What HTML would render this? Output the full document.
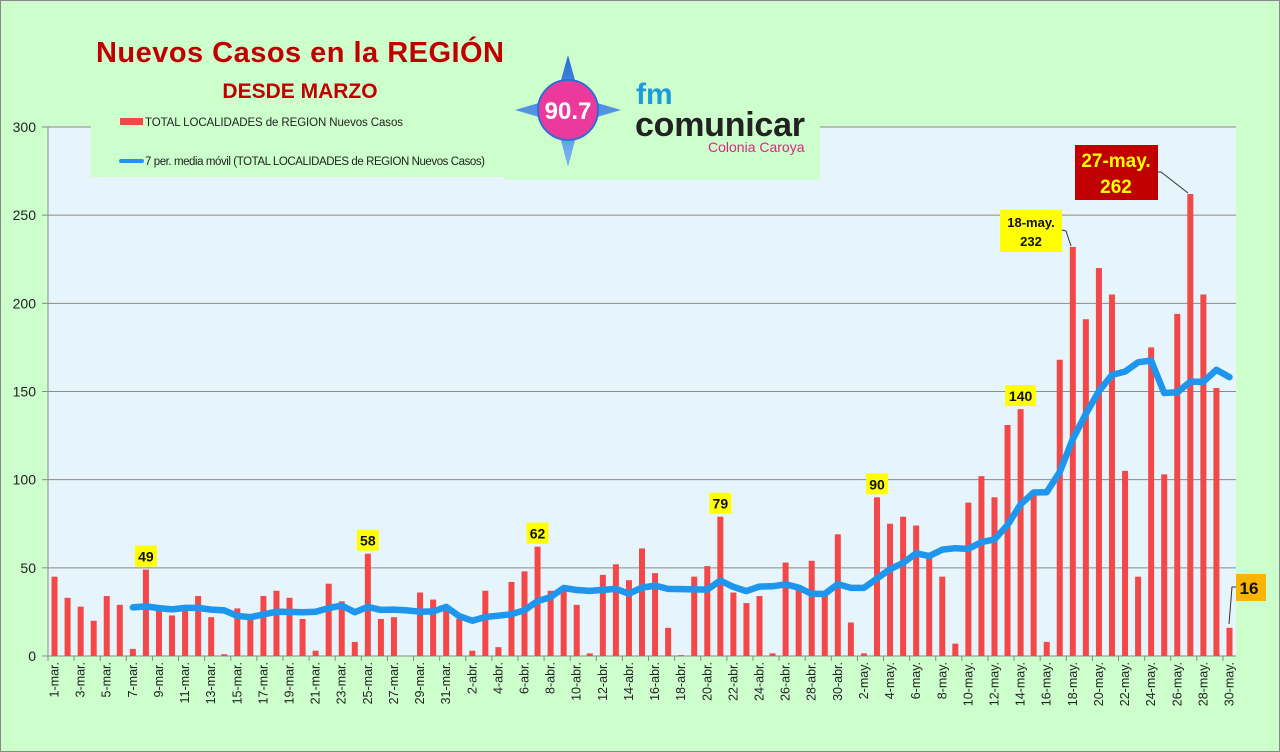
<!DOCTYPE html>
<html><head><meta charset="utf-8"><style>
html,body{margin:0;padding:0;background:#ccffcc;}
svg{display:block;font-family:"Liberation Sans",sans-serif;}
</style></head><body>
<svg id="s" width="1280" height="752" xmlns="http://www.w3.org/2000/svg"></svg>
<script>
const v=[45,33,28,20,34,29,4,49,26,23,26,34,22,1,27,21,34,37,33,21,3,41,31,8,58,21,22,0,36,32,26,
21,3,37,5,42,48,62,37,39,29,1.5,46,52,43,61,47,16,0.5,45,51,79,36,30,34,1.5,53,38,54,36,69,
19,1.5,90,75,79,74,58,45,7,87,102,90,131,140,92,8,168,232,191,220,205,105,45,175,103,194,262,205,152,16];
const X0=48,X1=1236,Y0=656,Ytop=127,k=(Y0-Ytop)/300;
const step=(X1-X0)/91;
const xc=i=>X0+step*(i+0.5), yv=val=>Y0-val*k;
let h='';
h+=`<rect x="0" y="0" width="1280" height="752" fill="#ccffcc"/>`;
h+=`<rect x="0.5" y="0.5" width="1279" height="751" fill="none" stroke="#888"/>`;
h+=`<rect x="${X0}" y="${Ytop}" width="${X1-X0}" height="${Y0-Ytop}" fill="#e6f4fb"/>`;
for(let g=0;g<=300;g+=50){const y=yv(g);
 h+=`<line x1="${X0}" x2="${X1}" y1="${y}" y2="${y}" stroke="#8a8a8a" stroke-width="1"/>`;
 h+=`<line x1="${X0-6}" x2="${X0}" y1="${y}" y2="${y}" stroke="#8a8a8a"/>`;
 h+=`<text x="${X0-12}" y="${y+5}" font-size="14" text-anchor="end" fill="#222">${g}</text>`;}
h+=`<line x1="${X0}" x2="${X0}" y1="${Ytop}" y2="${Y0}" stroke="#8a8a8a"/>`;
h+=`<rect x="91" y="113" width="417" height="64" fill="#ccffcc"/>`;
h+=`<rect x="505" y="55" width="315" height="125" fill="#ccffcc"/>`;
v.forEach((val,i)=>{const bw=6;h+=`<rect x="${xc(i)-bw/2}" y="${yv(val)}" width="${bw}" height="${val*k}" fill="#f44848"/>`;});
const names=[];for(let d=1;d<=31;d++)names.push(d+'-mar.');for(let d=1;d<=30;d++)names.push(d+'-abr.');for(let d=1;d<=30;d++)names.push(d+'-may.');
for(let i=0;i<=91;i+=2){const x=X0+step*i;h+=`<line x1="${x}" x2="${x}" y1="${Y0}" y2="${Y0+5}" stroke="#8a8a8a"/>`;}
for(let i=0;i<91;i+=2){const x=xc(i)+4;h+=`<text transform="translate(${x},662) rotate(-90)" font-size="12.5" text-anchor="end" fill="#222">${names[i]}</text>`;}
let pts=[];for(let i=6;i<91;i++){let s=0;for(let j=i-6;j<=i;j++)s+=v[j];pts.push(xc(i).toFixed(1)+','+yv(s/7).toFixed(1));}
h+=`<polyline points="${pts.join(' ')}" fill="none" stroke="#1e96ee" stroke-width="6.5" stroke-linejoin="round" stroke-linecap="round"/>`;
function lab(i,val,t){const x=xc(i),y=yv(val)-12;const w=t.length*9+4;h+=`<rect x="${x-w/2}" y="${y-12}" width="${w}" height="21" fill="#ffff00"/><text x="${x}" y="${y+4}" font-size="14" font-weight="bold" text-anchor="middle" fill="#111">${t}</text>`;}
lab(7,49,'49');lab(24,58,'58');lab(37,62,'62');lab(51,79,'79');lab(63,90,'90');lab(74,140,'140');
h+=`<rect x="1000" y="210" width="62" height="42" fill="#ffff00"/><text x="1031" y="227" font-size="13" font-weight="bold" text-anchor="middle" fill="#111">18-may.</text><text x="1031" y="246" font-size="13" font-weight="bold" text-anchor="middle" fill="#111">232</text>`;
h+=`<polyline points="1062,230 1066,231 1071,246" fill="none" stroke="#333"/>`;
h+=`<rect x="1075" y="145" width="83" height="55" fill="#c00000"/><text x="1116" y="167" font-size="19" font-weight="bold" text-anchor="middle" fill="#ffff00">27-may.</text><text x="1116" y="193" font-size="19" font-weight="bold" text-anchor="middle" fill="#ffff00">262</text>`;
h+=`<polyline points="1158,172 1161,172 1188,193" fill="none" stroke="#333"/>`;
h+=`<rect x="1236" y="574" width="30" height="27" fill="#f8b400"/><text x="1249" y="594" font-size="17" font-weight="bold" text-anchor="middle" fill="#111">16</text>`;
h+=`<polyline points="1236,587 1232,587 1229,624" fill="none" stroke="#333"/>`;
h+=`<text x="300" y="62" font-size="29" font-weight="bold" text-anchor="middle" fill="#c00000" textLength="408">Nuevos Casos en la REGIÓN</text>`;
h+=`<text x="300" y="98" font-size="21" font-weight="bold" text-anchor="middle" fill="#c00000">DESDE MARZO</text>`;
h+=`<rect x="120" y="118" width="23" height="7" fill="#f44848"/><text x="145" y="126" font-size="11.5" fill="#222" textLength="258">TOTAL LOCALIDADES de REGION Nuevos Casos</text>`;
h+=`<line x1="121" y1="161" x2="142" y2="161" stroke="#1e96ee" stroke-width="4" stroke-linecap="round"/><text x="145" y="165" font-size="11.5" fill="#222" textLength="340">7 per. media móvil (TOTAL LOCALIDADES de REGION Nuevos Casos)</text>`;
h+=`<defs><linearGradient id="st" x1="0" y1="0" x2="0" y2="1"><stop offset="0" stop-color="#2b6fd6"/><stop offset="1" stop-color="#7ab4f0"/></linearGradient></defs>`;
h+=`<polygon points="568,55 580,98 621,110 580,122 568,167 556,122 515,110 556,98" fill="url(#st)"/>`;
h+=`<circle cx="568" cy="110" r="30" fill="#ec3a9c" stroke="#2b6fd6" stroke-width="2"/>`;
h+=`<text x="568" y="119" font-size="24" font-weight="bold" text-anchor="middle" fill="#fff">90.7</text>`;
h+=`<text x="636" y="104" font-size="30" font-weight="bold" fill="#1e9bdc">fm</text>`;
h+=`<text x="635" y="136" font-size="34" font-weight="bold" fill="#222" textLength="170">comunicar</text>`;
h+=`<text x="708" y="152" font-size="14" fill="#e0257f">Colonia Caroya</text>`;
document.getElementById('s').innerHTML=h;
</script>
</body></html>
